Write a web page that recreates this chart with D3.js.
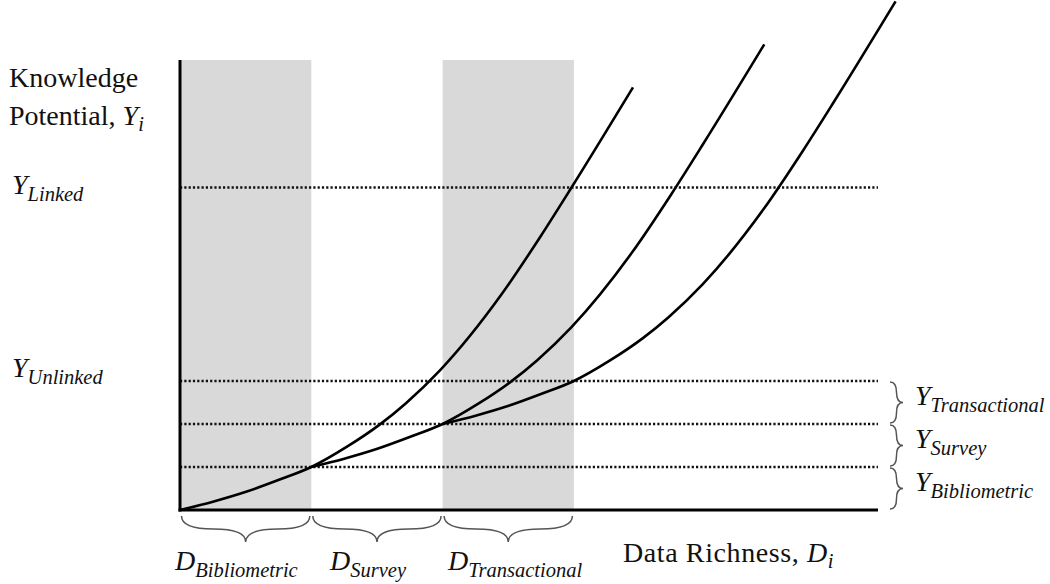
<!DOCTYPE html>
<html>
<head>
<meta charset="utf-8">
<script src="https://cdn.jsdelivr.net/npm/d3@7"></script>
<style>
  body { margin: 0; background: #fff; }
  .axis-line { stroke: #000; stroke-width: 3; }
  .level-line { stroke: #111; stroke-width: 2.6; stroke-dasharray: 2.2 2.1; }
  .curve { fill: none; stroke: #000; stroke-width: 2.6; }
  .brace { fill: none; stroke: #555; stroke-width: 1.5; }
</style>
</head>
<body>
<svg id="chart" width="1050" height="584"></svg>
<script>
// ── Data regions along the richness axis (D units) ──
const regions = [
  { name: "Bibliometric",  from: 0, to: 1, shaded: true },
  { name: "Survey",        from: 1, to: 2, shaded: false },
  { name: "Transactional", from: 2, to: 3, shaded: true }
];

// ── Knowledge levels (Y units) ──
const levels = [1, 2, 3, 7.5];
const levelLabels = [
  { name: "Unlinked", value: 3 },
  { name: "Linked",   value: 7.5 }
];
const levelBands = [
  { name: "Bibliometric",  from: 0, to: 1 },
  { name: "Survey",        from: 1, to: 2 },
  { name: "Transactional", from: 2, to: 3 }
];

// ── Curves [D, Y] ──
const curveBibliometric = [
  [0, 0], [0.251, 0.193], [0.503, 0.423], [0.754, 0.702], [1, 1], [1.272, 1.472],
  [1.523, 1.991], [1.721, 2.484], [1.98, 3.247], [2.445, 4.998], [2.742, 6.344],
  [2.983, 7.505], [3.45, 9.828]
];
const curveSurvey = [
  [1, 1], [1.251, 1.193], [1.503, 1.423], [1.754, 1.702], [2, 2], [2.272, 2.472],
  [2.523, 2.991], [2.721, 3.484], [2.98, 4.247], [3.445, 5.998], [3.742, 7.344],
  [3.983, 8.505], [4.45, 10.828]
];
const curveTransactional = [
  [2, 2], [2.251, 2.193], [2.503, 2.423], [2.754, 2.702], [3, 3], [3.272, 3.472],
  [3.523, 3.991], [3.721, 4.484], [3.98, 5.247], [4.445, 6.998], [4.742, 8.344],
  [4.983, 9.505], [5.45, 11.828]
];
const curves = [curveBibliometric, curveSurvey, curveTransactional];

// ── Layout ──
const svg = d3.select("#chart");
const x0 = 180, x1 = 878, yBottom = 510, yTop = 60;
const dLabelX = [175, 330, 448];
const serif = '"Liberation Serif", "Times New Roman", serif';

const xScale = d3.scaleLinear().domain([0, 1]).range([x0, x0 + 131.3]);
const yScale = d3.scaleLinear().domain([0, 1]).range([yBottom, yBottom - 43]);

// shaded bands
svg.selectAll(".band")
  .data(regions.filter(d => d.shaded))
  .join("rect")
  .attr("x", d => xScale(d.from))
  .attr("width", d => xScale(d.to) - xScale(d.from))
  .attr("y", yTop)
  .attr("height", yBottom - yTop)
  .attr("fill", "#d9d9d9");

// dotted level lines
svg.selectAll(".level-line")
  .data(levels)
  .join("line")
  .attr("class", "level-line")
  .attr("x1", x0)
  .attr("x2", x1)
  .attr("y1", d => yScale(d))
  .attr("y2", d => yScale(d));

// curves
const line = d3.line()
  .x(d => xScale(d[0]))
  .y(d => yScale(d[1]))
  .curve(d3.curveMonotoneX);

svg.selectAll(".curve")
  .data(curves)
  .join("path")
  .attr("class", "curve")
  .attr("d", line);

// axes
svg.append("line").attr("class", "axis-line")
  .attr("x1", x0).attr("x2", x0).attr("y1", yTop).attr("y2", yBottom + 1.5);
svg.append("line").attr("class", "axis-line")
  .attr("x1", x0 - 1.5).attr("x2", x1).attr("y1", yBottom).attr("y2", yBottom);

// ── Curly brace path ──
function bracePath(ax, ay, bx, by, w, q) {
  let dx = ax - bx, dy = ay - by;
  const len = Math.sqrt(dx * dx + dy * dy);
  dx /= len; dy /= len;
  const qx1 = ax + q * w * dy, qy1 = ay - q * w * dx;
  const qx2 = (ax - .25 * len * dx) + (1 - q) * w * dy, qy2 = (ay - .25 * len * dy) - (1 - q) * w * dx;
  const tx = (ax - .5 * len * dx) + w * dy, ty = (ay - .5 * len * dy) - w * dx;
  const qx3 = bx + q * w * dy, qy3 = by - q * w * dx;
  const qx4 = (ax - .75 * len * dx) + (1 - q) * w * dy, qy4 = (ay - .75 * len * dy) - (1 - q) * w * dx;
  return `M${ax},${ay}Q${qx1},${qy1} ${qx2},${qy2}T${tx},${ty}` +
         `M${bx},${by}Q${qx3},${qy3} ${qx4},${qy4}T${tx},${ty}`;
}

// bottom braces
svg.selectAll(".brace-d")
  .data(regions)
  .join("path")
  .attr("class", "brace")
  .attr("d", d => bracePath(xScale(d.from) + 1.5, 516, xScale(d.to) - 1.5, 516, 26, 0.5));

// right braces
svg.selectAll(".brace-y")
  .data(levelBands)
  .join("path")
  .attr("class", "brace")
  .attr("d", d => bracePath(890, yScale(d.from) - 1, 890, yScale(d.to) + 1, 13, 0.5));

// ── Labels ──
function textAt(x, y) {
  return svg.append("text").attr("x", x).attr("y", y)
    .style("font-family", serif).style("font-size", "28px").style("fill", "#111");
}

function subLabel(x, y, main, sub) {
  const t = textAt(x, y);
  t.append("tspan").text(main).style("font-style", "italic");
  t.append("tspan").text(sub).style("font-style", "italic")
    .style("font-size", "20.5px").attr("dy", 7);
  return t;
}

textAt(9, 87).text("Knowledge");
const pot = textAt(9, 125);
pot.append("tspan").text("Potential, ");
pot.append("tspan").text("Y").style("font-style", "italic");
pot.append("tspan").text("i").style("font-style", "italic").style("font-size", "20.5px").attr("dy", 6);

levelLabels.forEach(d => {
  subLabel(12, yScale(d.value) + (d.value > 5 ? 6 : -4), "Y", d.name);
});

regions.forEach((d, i) => {
  subLabel(dLabelX[i], 570, "D", d.name);
});

levelBands.forEach(d => {
  subLabel(915, (yScale(d.from) + yScale(d.to)) / 2 + 2, "Y", d.name);
});

const dr = textAt(623, 562).style("letter-spacing", "0.6px");
dr.append("tspan").text("Data Richness, ");
dr.append("tspan").text("D").style("font-style", "italic");
dr.append("tspan").text("i").style("font-style", "italic").style("font-size", "20.5px").attr("dy", 6);
</script>
</body>
</html>
